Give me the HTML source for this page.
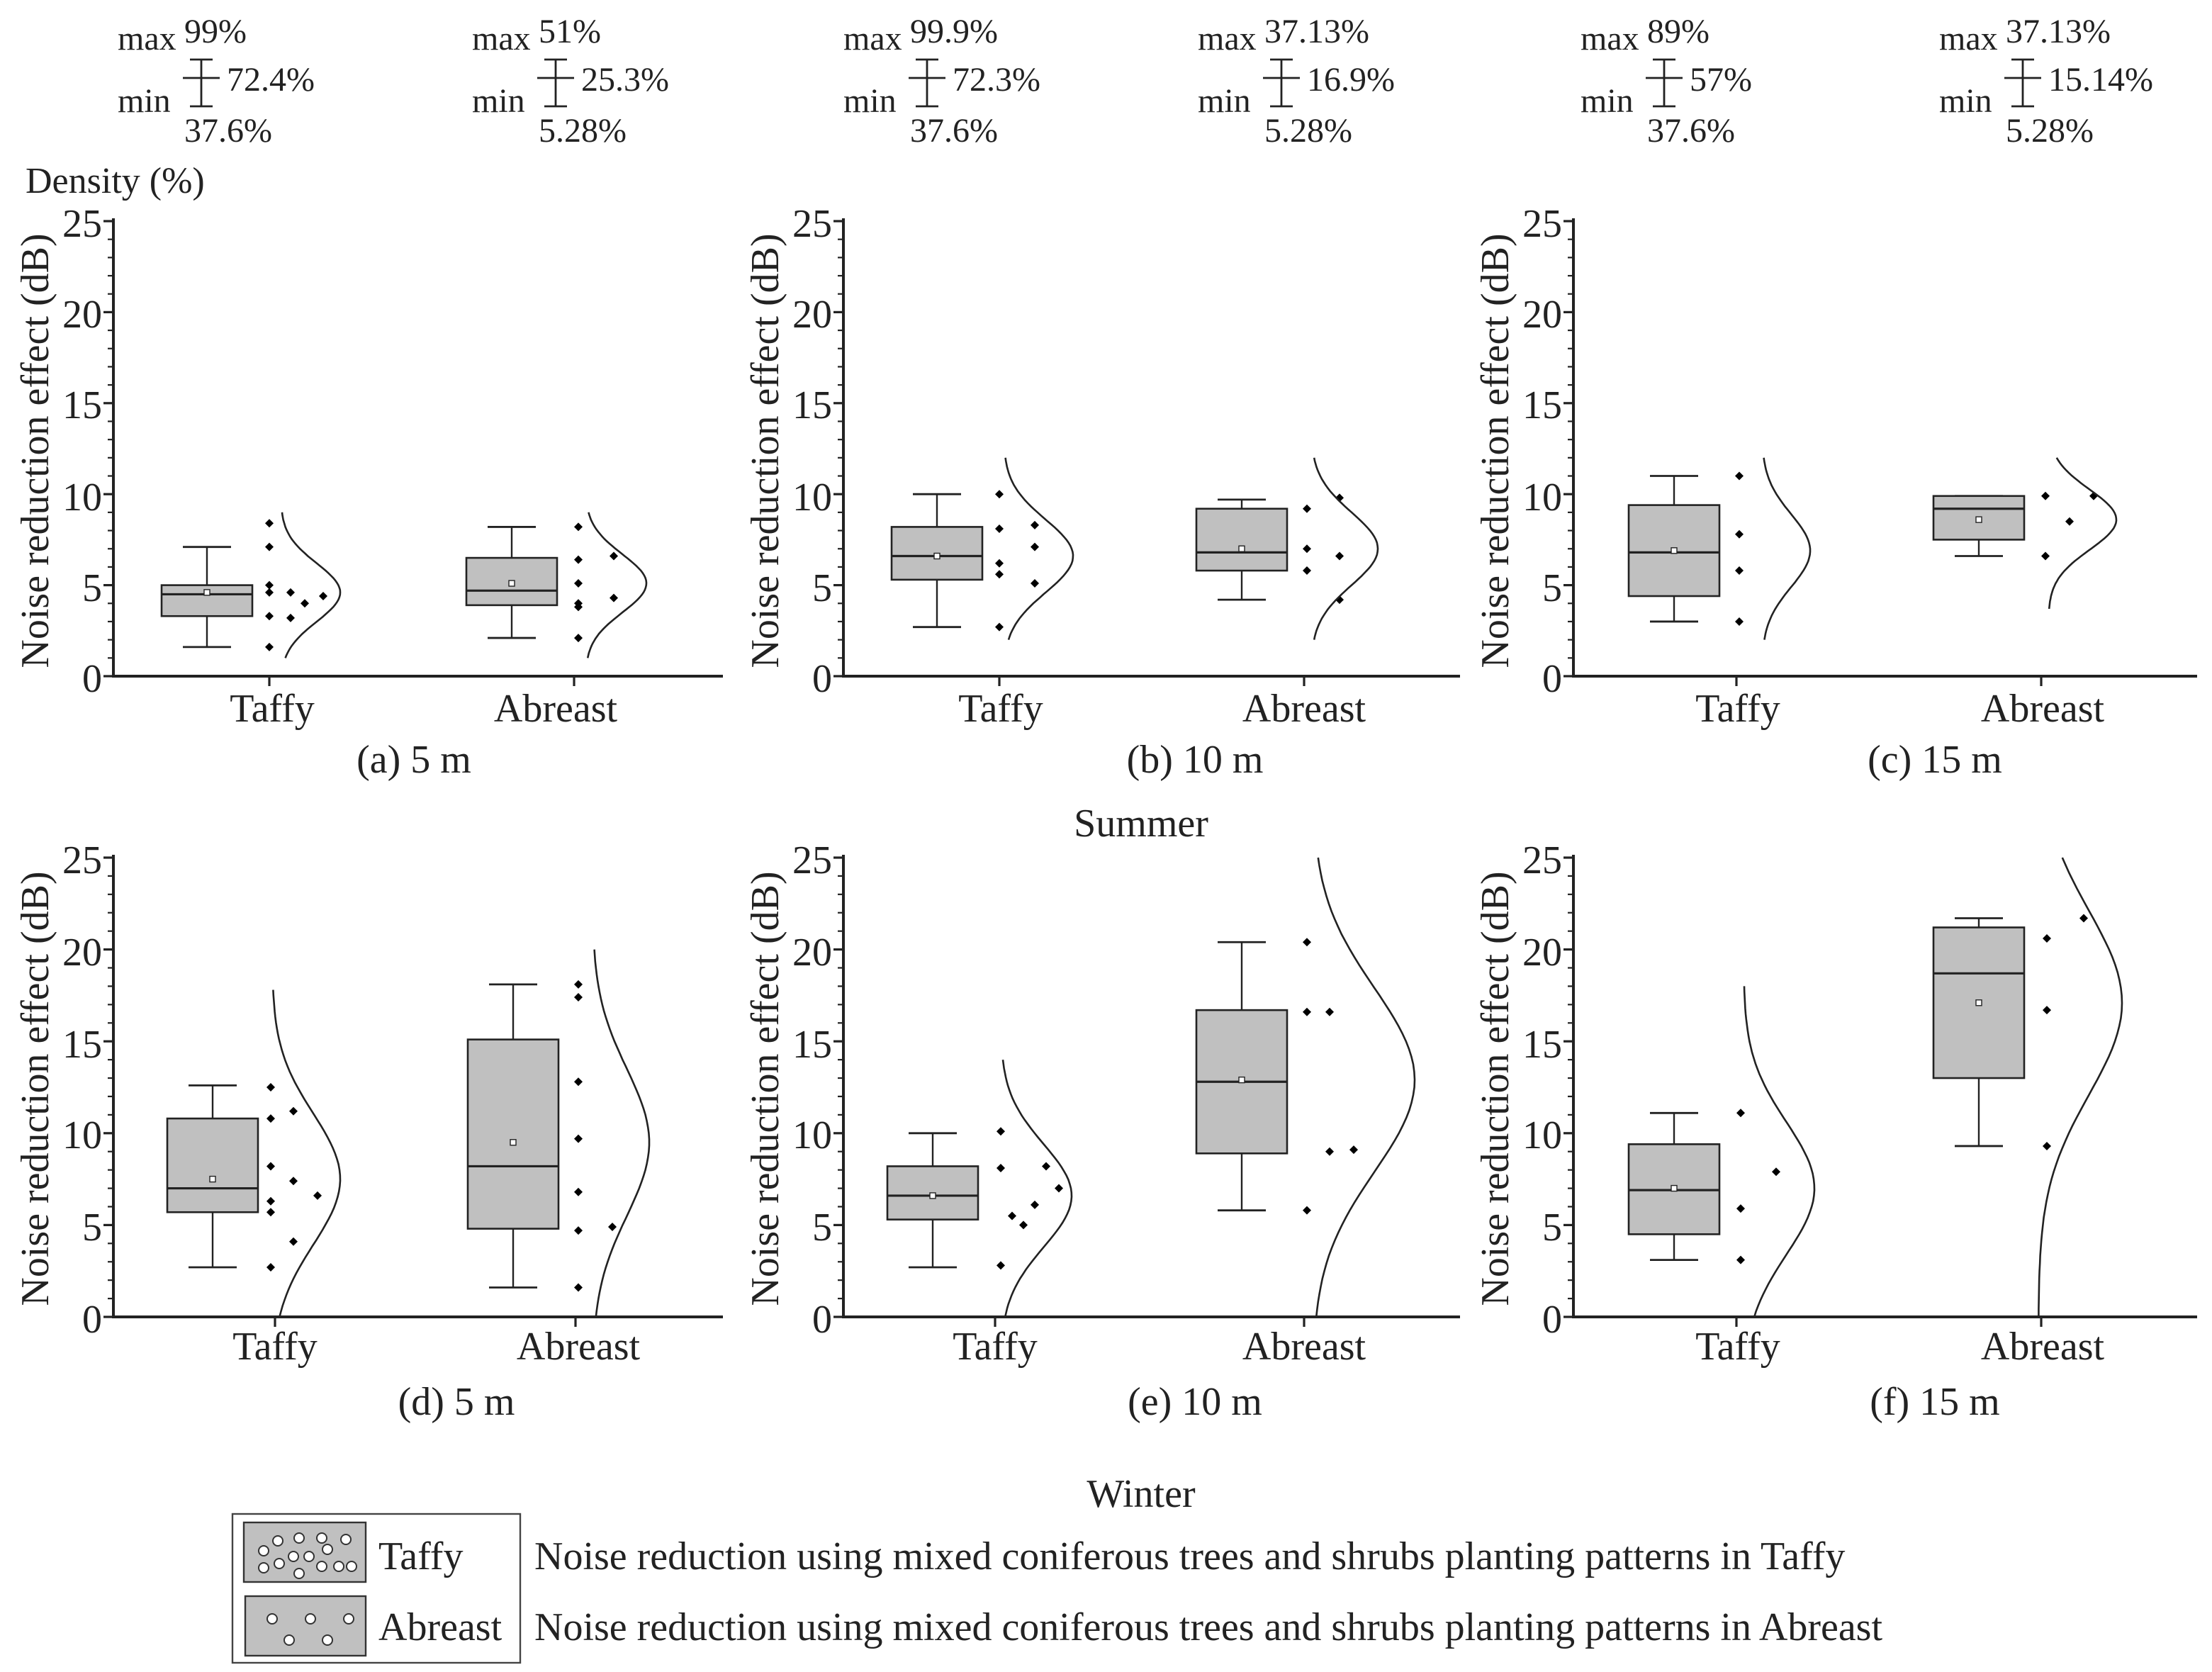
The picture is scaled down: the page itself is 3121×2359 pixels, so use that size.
<!DOCTYPE html>
<html><head><meta charset="utf-8"><style>
html,body{margin:0;padding:0;background:#fff}
svg{display:block}
</style></head><body>
<svg id="s" width="3121" height="2359" viewBox="0 0 1560.5 1179.5" xmlns="http://www.w3.org/2000/svg" font-family="'Liberation Serif', 'Times New Roman', serif" fill="#222">
<rect width="1560.5" height="1179.5" fill="#fff"/>
<g font-size="24" font-family="'Liberation Serif', serif">
<g transform="translate(83,0)"><text x="0" y="35">max</text><text x="47" y="30">99%</text><text x="0" y="79">min</text><text x="47" y="100">37.6%</text><text x="77" y="64">72.4%</text></g>
<g transform="translate(333,0)"><text x="0" y="35">max</text><text x="47" y="30">51%</text><text x="0" y="79">min</text><text x="47" y="100">5.28%</text><text x="77" y="64">25.3%</text></g>
<g transform="translate(595,0)"><text x="0" y="35">max</text><text x="47" y="30">99.9%</text><text x="0" y="79">min</text><text x="47" y="100">37.6%</text><text x="77" y="64">72.3%</text></g>
<g transform="translate(845,0)"><text x="0" y="35">max</text><text x="47" y="30">37.13%</text><text x="0" y="79">min</text><text x="47" y="100">5.28%</text><text x="77" y="64">16.9%</text></g>
<g transform="translate(1115,0)"><text x="0" y="35">max</text><text x="47" y="30">89%</text><text x="0" y="79">min</text><text x="47" y="100">37.6%</text><text x="77" y="64">57%</text></g>
<g transform="translate(1368,0)"><text x="0" y="35">max</text><text x="47" y="30">37.13%</text><text x="0" y="79">min</text><text x="47" y="100">5.28%</text><text x="77" y="64">15.14%</text></g>
</g>
<text x="18" y="136" font-size="26" font-family="'Liberation Serif', serif">Density (%)</text>
<g font-size="28" text-anchor="middle" font-family="'Liberation Serif', serif">
<text x="192" y="509">Taffy</text><text x="392" y="509">Abreast</text>
<text x="706" y="509">Taffy</text><text x="920" y="509">Abreast</text>
<text x="1226" y="509">Taffy</text><text x="1441" y="509">Abreast</text>
<text x="194" y="959">Taffy</text><text x="408" y="959">Abreast</text>
<text x="702" y="959">Taffy</text><text x="920" y="959">Abreast</text>
<text x="1226" y="959">Taffy</text><text x="1441" y="959">Abreast</text>
<text x="292" y="545">(a) 5 m</text><text x="843" y="545">(b) 10 m</text><text x="1365" y="545">(c) 15 m</text>
<text x="322" y="998">(d) 5 m</text><text x="843" y="998">(e) 10 m</text><text x="1365" y="998">(f) 15 m</text>
<text x="805" y="590">Summer</text><text x="805" y="1063">Winter</text>
</g>
<g font-size="28" text-anchor="middle" font-family="'Liberation Serif', serif">
<text transform="translate(34,318) rotate(-90)">Noise reduction effect (dB)</text>
<text transform="translate(549,318) rotate(-90)">Noise reduction effect (dB)</text>
<text transform="translate(1064,318) rotate(-90)">Noise reduction effect (dB)</text>
<text transform="translate(34,768) rotate(-90)">Noise reduction effect (dB)</text>
<text transform="translate(549,768) rotate(-90)">Noise reduction effect (dB)</text>
<text transform="translate(1064,768) rotate(-90)">Noise reduction effect (dB)</text>
</g>
<g font-size="28" text-anchor="end" font-family="'Liberation Serif', serif">
<text x="72" y="167">25</text><text x="72" y="231">20</text><text x="72" y="295">15</text><text x="72" y="360">10</text><text x="72" y="424">5</text><text x="72" y="488">0</text>
<text x="587" y="167">25</text><text x="587" y="231">20</text><text x="587" y="295">15</text><text x="587" y="360">10</text><text x="587" y="424">5</text><text x="587" y="488">0</text>
<text x="1102" y="167">25</text><text x="1102" y="231">20</text><text x="1102" y="295">15</text><text x="1102" y="360">10</text><text x="1102" y="424">5</text><text x="1102" y="488">0</text>
<text x="72" y="616">25</text><text x="72" y="681">20</text><text x="72" y="746">15</text><text x="72" y="810">10</text><text x="72" y="875">5</text><text x="72" y="940">0</text>
<text x="587" y="616">25</text><text x="587" y="681">20</text><text x="587" y="746">15</text><text x="587" y="810">10</text><text x="587" y="875">5</text><text x="587" y="940">0</text>
<text x="1102" y="616">25</text><text x="1102" y="681">20</text><text x="1102" y="746">15</text><text x="1102" y="810">10</text><text x="1102" y="875">5</text><text x="1102" y="940">0</text>
</g>
<rect x="164" y="1068" width="203" height="105" fill="none" stroke="#444" stroke-width="1.2"/>
<rect x="172" y="1074" width="86" height="42" fill="#c0c0c0" stroke="#333" stroke-width="1.2"/>
<rect x="173" y="1126" width="85" height="42" fill="#c0c0c0" stroke="#333" stroke-width="1.2"/>
<g fill="#fff" stroke="#333" stroke-width="1">
<circle cx="186" cy="1094" r="3.5"/><circle cx="196" cy="1087" r="3.5"/><circle cx="211" cy="1085" r="3.5"/><circle cx="227" cy="1085" r="3.5"/><circle cx="244" cy="1086" r="3.5"/><circle cx="231" cy="1093" r="3.5"/>
<circle cx="207" cy="1098" r="3.5"/><circle cx="218" cy="1098" r="3.5"/><circle cx="197" cy="1103" r="3.5"/><circle cx="186" cy="1106" r="3.5"/><circle cx="211" cy="1110" r="3.5"/><circle cx="227" cy="1105" r="3.5"/><circle cx="239" cy="1105" r="3.5"/><circle cx="248" cy="1105" r="3.5"/>
<circle cx="192" cy="1142" r="3.5"/><circle cx="219" cy="1142" r="3.5"/><circle cx="246" cy="1142" r="3.5"/><circle cx="204" cy="1157" r="3.5"/><circle cx="231" cy="1157" r="3.5"/>
</g>
<g font-size="28" font-family="'Liberation Serif', serif"><text x="267" y="1107">Taffy</text><text x="267" y="1157">Abreast</text>
<text x="377" y="1107">Noise reduction using mixed coniferous trees and shrubs planting patterns in Taffy</text>
<text x="377" y="1157">Noise reduction using mixed coniferous trees and shrubs planting patterns in Abreast</text></g>
<g id="g" stroke="#222" fill="none" stroke-width="1.4"></g>
</svg>
<script>
var G=document.getElementById('g'),NS='http://www.w3.org/2000/svg';
function el(t,a){var e=document.createElementNS(NS,t);for(var k in a)e.setAttribute(k,a[k]);G.appendChild(e);return e;}
function L(x1,y1,x2,y2,w){el('line',{x1:x1,y1:y1,x2:x2,y2:y2,'stroke-width':w||1.4});}
var panels=[
{ox:80,y0:477,yt:156,end:510,t:190,a:405,
 T:{w:[1.6,7.1],b:[3.3,5.0],m:4.5,mu:4.6,d:[[190,[8.4,7.1,5.0,4.6,3.3,1.6]],[205,[4.6,3.2]],[215,[4.0]],[228,[4.4]]],c:[198,240,1,9]},
 A:{w:[2.1,8.2],b:[3.9,6.5],m:4.7,mu:5.1,d:[[408,[8.2,6.4,5.1,4.0,3.8,2.1]],[433,[6.6,4.3]]],c:[413,456,1,9]}},
{ox:595,y0:477,yt:156,end:1030,t:705,a:920,
 T:{w:[2.7,10],b:[5.3,8.2],m:6.6,mu:6.6,d:[[705,[10,8.1,6.2,5.6,2.7]],[730,[8.3,7.1,5.1]]],c:[708,757,2,12]},
 A:{w:[4.2,9.7],b:[5.8,9.2],m:6.8,mu:7.0,d:[[922,[9.2,7.0,5.8]],[945,[9.8,6.6,4.2]]],c:[925,972,2,12]}},
{ox:1110,y0:477,yt:156,end:1550,t:1225,a:1440,
 T:{w:[3.0,11],b:[4.4,9.4],m:6.8,mu:6.9,d:[[1227,[11,7.8,5.8,3.0]]],c:[1243,1277,2,12]},
 A:{w:[6.6,9.9],b:[7.5,9.9],m:9.2,mu:8.6,d:[[1443,[9.9,6.6]],[1460,[8.5]],[1477,[9.9]]],c:[1445,1493,3.7,12]}},
{ox:80,y0:929,yt:605,end:510,t:194,a:406,
 T:{w:[2.7,12.6],b:[5.7,10.8],m:7.0,mu:7.5,d:[[191,[12.5,10.8,8.2,6.3,5.7,2.7]],[207,[11.2,7.4,4.1]],[224,[6.6]]],c:[192,240,0,17.8]},
 A:{w:[1.6,18.1],b:[4.8,15.1],m:8.2,mu:9.5,d:[[408,[18.1,17.4,12.8,9.7,6.8,4.7,1.6]],[432,[4.9]]],c:[418,458,0,20]}},
{ox:595,y0:929,yt:605,end:1030,t:702,a:920,
 T:{w:[2.7,10],b:[5.3,8.2],m:6.6,mu:6.6,d:[[706,[10.1,8.1,2.8]],[714,[5.5]],[722,[5.0]],[730,[6.1]],[738,[8.2]],[747,[7.0]]],c:[706,756,0,14]},
 A:{w:[5.8,20.4],b:[8.9,16.7],m:12.8,mu:12.9,d:[[922,[20.4,16.6,5.8]],[938,[16.6,9.0]],[955,[9.1]]],c:[926,998,0,25]}},
{ox:1110,y0:929,yt:605,end:1550,t:1225,a:1440,
 T:{w:[3.1,11.1],b:[4.5,9.4],m:6.9,mu:7.0,d:[[1228,[11.1,5.9,3.1]],[1253,[7.9]]],c:[1230,1280,0,18]},
 A:{w:[9.3,21.7],b:[13,21.2],m:18.7,mu:17.1,d:[[1444,[20.6,16.7,9.3]],[1470,[21.7]]],c:[1438,1497,0,25]}}
];
panels.forEach(function(p){
 var s=(p.y0-p.yt)/25;function Y(v){return p.y0-v*s;}
 L(p.ox,p.yt-2,p.ox,p.y0+1,2);L(p.ox,p.y0,p.end,p.y0,2);
 for(var i=0;i<=25;i++){var maj=i%5==0;L(p.ox-(maj?7:4),Y(i),p.ox,Y(i),maj?1.6:1.1);}
 L(p.t,p.y0,p.t,p.y0+7,1.6);L(p.a,p.y0,p.a,p.y0+7,1.6);
 [[p.T,p.t],[p.A,p.a]].forEach(function(q){
  var d=q[0],tk=q[1],cx=tk-44;
  L(cx,Y(d.w[0]),cx,Y(d.b[0]),1.2);L(cx,Y(d.b[1]),cx,Y(d.w[1]),1.2);
  L(cx-17,Y(d.w[0]),cx+17,Y(d.w[0]),1.4);L(cx-17,Y(d.w[1]),cx+17,Y(d.w[1]),1.4);
  el('rect',{x:cx-32,y:Y(d.b[1]),width:64,height:(d.b[1]-d.b[0])*s,fill:'#c0c0c0','stroke-width':1.3});
  L(cx-32,Y(d.m),cx+32,Y(d.m),1.6);
  el('rect',{x:cx-2,y:Y(d.mu)-2,width:4,height:4,fill:'#fff','stroke-width':0.7});
  d.d.forEach(function(c){c[1].forEach(function(v){var y=Y(v);el('polygon',{points:(c[0]-3)+','+y+' '+c[0]+','+(y-3)+' '+(c[0]+3)+','+y+' '+c[0]+','+(y+3),fill:'#000',stroke:'none'});});});
  var c=d.c,sig=(c[3]-c[2])/5,pts=[];
  for(var k=0;k<=60;k++){var v=c[2]+(c[3]-c[2])*k/60;var x=c[0]+(c[1]-c[0])*Math.exp(-Math.pow(v-d.mu,2)/(2*sig*sig));pts.push(x.toFixed(1)+','+Y(v).toFixed(1));}
  el('polyline',{points:pts.join(' '),'stroke-width':1.3});
 });
});
[83,333,595,845,1115,1368].forEach(function(x){var c=x+59;L(c,42,c,75,1.4);L(c-8,42,c+8,42,1.4);L(c-8,75,c+8,75,1.4);L(c-13,55,c+13,55,1.4);});
</script>
</body></html>
